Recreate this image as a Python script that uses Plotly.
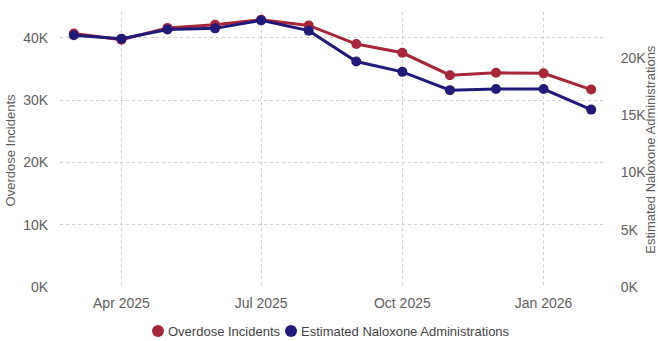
import plotly.graph_objects as go

# Monthly series, Mar 2025 - Feb 2026
months = ["2025-03-01", "2025-04-01", "2025-05-01", "2025-06-01", "2025-07-01", "2025-08-01",
          "2025-09-01", "2025-10-01", "2025-11-01", "2025-12-01", "2026-01-01", "2026-02-01"]
overdose_incidents = [40700, 39700, 41600, 42100, 42900, 42000,
                      39000, 37600, 34000, 34400, 34300, 31700]
naloxone_admin = [22000, 21700, 22500, 22600, 23300, 22400,
                  19700, 18800, 17200, 17300, 17300, 15500]

left_ticks = [0, 10000, 20000, 30000, 40000]
left_labels = ["0K", "10K", "20K", "30K", "40K"]
right_ticks = [0, 5000, 10000, 15000, 20000]
right_labels = ["0K", "5K", "10K", "15K", "20K"]
x_ticks = ["2025-04-01", "2025-07-01", "2025-10-01", "2026-01-01"]
x_labels = ["Apr 2025", "Jul 2025", "Oct 2025", "Jan 2026"]

RED = "#A6263A"
NAVY = "#221A78"
TXT = "#605E5C"
GRID = "#CFCFCF"
FONT = "Liberation Sans, Arial, sans-serif"

fig = go.Figure()
fig.add_trace(go.Scatter(
    x=months, y=overdose_incidents, name="Overdose Incidents", mode="lines+markers",
    line=dict(color=RED, width=3), marker=dict(color=RED, size=10),
    yaxis="y", showlegend=False))
fig.add_trace(go.Scatter(
    x=months, y=naloxone_admin, name="Estimated Naloxone Administrations", mode="lines+markers",
    line=dict(color=NAVY, width=3), marker=dict(color=NAVY, size=10),
    yaxis="y2", showlegend=False))

# Compact legend: a dot followed closely by its label
legend_items = [("Overdose Incidents", RED, 0.1798), ("Estimated Naloxone Administrations", NAVY, 0.4239)]
legend_y = 0.029  # container fraction
shapes = []
annotations = []
for label, color, xc in legend_items:
    shapes.append(dict(type="circle", xref="paper", yref="paper",
                       xsizemode="pixel", ysizemode="pixel",
                       xanchor=xc, yanchor=-0.16, x0=-6, x1=6, y0=-6, y1=6,
                       fillcolor=color, line=dict(width=0)))
    annotations.append(dict(text=label, xref="paper", yref="paper", x=xc + 0.0145, y=-0.16,
                            xanchor="left", yanchor="middle", showarrow=False,
                            font=dict(size=13, color="#444444")))

annotations += [
    dict(text="Overdose Incidents", textangle=-90, xref="paper", yref="paper",
         x=-0.09, y=0.5, xanchor="center", yanchor="middle", showarrow=False,
         font=dict(size=13, color=TXT)),
    dict(text="Estimated Naloxone Administrations", textangle=-90, xref="paper", yref="paper",
         x=1.083, y=0.5, xanchor="center", yanchor="middle", showarrow=False,
         font=dict(size=13, color=TXT)),
]

fig.update_layout(
    width=658, height=341,
    margin=dict(l=60, r=53, t=12, b=54, autoexpand=False),
    plot_bgcolor="white", paper_bgcolor="white",
    font=dict(family=FONT, color=TXT, size=13),
    showlegend=False,
    xaxis=dict(
        type="date", range=["2025-02-20", "2026-02-10"],
        tickvals=x_ticks, ticktext=x_labels,
        tickfont=dict(size=14, color=TXT),
        showgrid=True, gridcolor=GRID, griddash="dot", gridwidth=1,
        zeroline=False, showline=False,
        ticks="outside", ticklen=3, tickcolor="rgba(0,0,0,0)",
    ),
    yaxis=dict(
        range=[0, 44150],
        tickvals=left_ticks, ticktext=left_labels,
        tickfont=dict(size=14, color=TXT),
        showgrid=True, gridcolor=GRID, griddash="dot", gridwidth=1,
        zeroline=False, showline=False,
        ticks="outside", ticklen=8, tickcolor="rgba(0,0,0,0)",
    ),
    yaxis2=dict(
        overlaying="y", side="right",
        range=[0, 24030],
        tickvals=right_ticks, ticktext=right_labels,
        tickfont=dict(size=14, color=TXT),
        showgrid=False, zeroline=False, showline=False,
        ticks="outside", ticklen=12, tickcolor="rgba(0,0,0,0)",
    ),
    shapes=shapes,
    annotations=annotations,
)

fig.write_html("out.html")
